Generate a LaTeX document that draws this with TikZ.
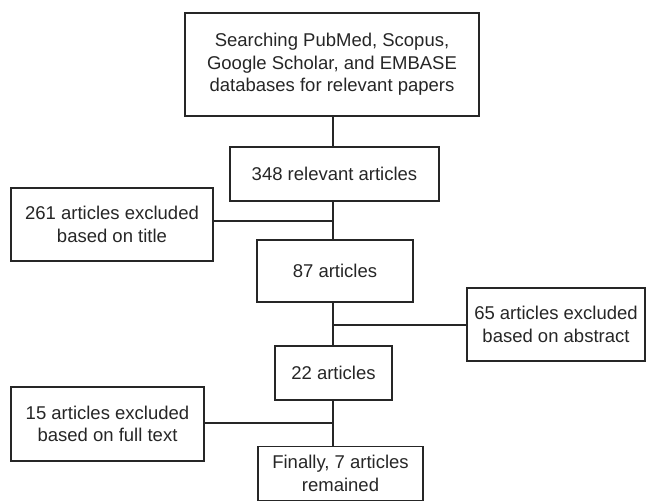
\documentclass[tikz,border=0pt]{standalone}
\usepackage{fontspec}
\setmainfont{Liberation Sans}
\definecolor{ink}{HTML}{262626}
\begin{document}
\begin{tikzpicture}[x=1pt,y=-1pt,
  box/.style={draw=ink,line width=1.1pt,text=ink,align=center,inner sep=0pt,
    font=\fontsize{18.5}{22.5}\selectfont},
  link/.style={draw=ink,line width=1.1pt}]
\useasboundingbox (0,0) rectangle (647,502);
% process boxes
\node[box,minimum width=294pt,minimum height=103pt] (search) at (332,64.5)
  {Searching PubMed, Scopus,\\Google Scholar, and EMBASE\\databases for relevant papers};
\node[box,minimum width=209pt,minimum height=54pt] (rel) at (334.5,174) {348 relevant articles};
\node[box,minimum width=156pt,minimum height=62pt] (a87) at (335,271) {87 articles};
\node[box,minimum width=117pt,minimum height=54pt] (a22) at (333.5,373) {22 articles};
\node[box,minimum width=165pt,minimum height=54pt] (fin) at (340.5,473.5) {Finally, 7 articles\\remained};
% exclusion boxes
\node[box,minimum width=202pt,minimum height=73pt] (ex1) at (112,224.5) {261 articles excluded\\based on title};
\node[box,minimum width=178pt,minimum height=73pt] (ex2) at (556,324.5) {65 articles excluded\\based on abstract};
\node[box,minimum width=193pt,minimum height=74pt] (ex3) at (107.5,424) {15 articles excluded\\based on full text};
% junctions on the main spine
\coordinate (j1) at (333,221);
\coordinate (j2) at (333,325);
\coordinate (j3) at (333,423);
% spine
\draw[link] (search.south -| j1) -- (rel.north -| j1);
\draw[link] (rel.south -| j1) -- (a87.north -| j1);
\draw[link] (a87.south -| j2) -- (a22.north -| j2);
\draw[link] (a22.south -| j3) -- (fin.north -| j3);
% side branches
\draw[link] (j1 -| ex1.east) -- (j1);
\draw[link] (j2) -- (j2 -| ex2.west);
\draw[link] (j3 -| ex3.east) -- (j3);
\end{tikzpicture}
\end{document}
